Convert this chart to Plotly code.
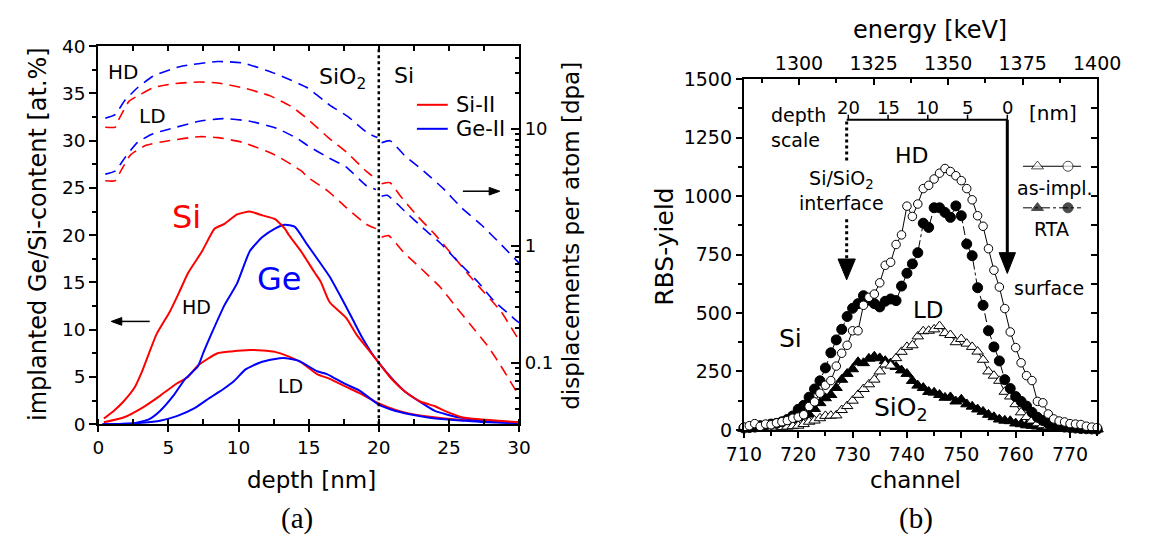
import plotly.graph_objects as go

W, H = 1153, 552
SANS = "DejaVu Sans"
SERIF = "Liberation Serif"
RED, BLUE, BLACK = "#ff0000", "#0000ff", "#000000"

# ================= (a) implanted content [at.%] (left axis) =================
si_hd_depth = [0.4, 1.1, 1.8, 2.6, 3.1, 4.15, 5.1, 5.75, 6.4, 7.4, 8.3, 9.0, 9.9, 10.8, 11.7, 12.6, 13.3, 13.6,
               14.5, 15.4, 15.85, 16.5, 17.7, 18.4, 19.3, 20.0, 20.9, 21.9, 22.95, 24.0, 24.7, 26.0, 27.3, 28.5, 30.0]
si_hd_conc = [0.6, 1.4, 2.4, 3.9, 5.5, 9.5, 11.9, 13.9, 16.0, 18.3, 20.7, 21.2, 22.2, 22.5, 22.1, 21.7, 20.7, 20.0,
              18.2, 16.1, 15.1, 12.9, 11.2, 9.5, 7.8, 6.5, 4.8, 3.4, 2.4, 1.9, 1.4, 0.7, 0.5, 0.37, 0.2]

ge_hd_depth = [0.3, 1.5, 2.6, 3.6, 4.4, 5.4, 6.2, 7.1, 7.5, 8.05, 9.0, 9.9, 10.8, 11.7, 12.6, 13.3, 14.0, 14.9,
               15.85, 16.5, 17.5, 18.1, 18.8, 19.5, 20.1, 20.9, 21.9, 23.0, 24.0, 24.9, 26.0, 27.3, 28.5, 30.0]
ge_hd_conc = [0.0, 0.02, 0.1, 0.5, 1.4, 3.1, 4.8, 6.1, 7.6, 9.5, 12.6, 14.9, 18.3, 19.8, 20.7, 21.1, 20.9, 19.0,
              17.0, 15.6, 12.9, 11.2, 9.2, 7.5, 6.3, 4.9, 3.4, 2.3, 1.4, 1.0, 0.64, 0.37, 0.24, 0.14]

si_ld_depth = [0.4, 1.8, 3.1, 4.4, 5.6, 6.4, 7.1, 8.5, 9.5, 10.8, 11.7, 12.6, 13.5, 14.5, 15.6, 16.5, 17.6, 18.6,
               20.0, 21.2, 22.2, 23.5, 24.7, 26.0, 27.3, 28.5, 30.0]
si_ld_conc = [0.2, 0.7, 1.7, 3.0, 4.3, 5.0, 6.2, 7.5, 7.7, 7.85, 7.8, 7.65, 7.2, 6.5, 5.3, 4.8, 4.0, 3.3,
              2.2, 1.5, 1.1, 0.8, 0.6, 0.45, 0.35, 0.25, 0.15]

ge_ld_depth = [0.3, 2.0, 3.1, 4.4, 5.65, 6.9, 7.9, 8.95, 9.7, 10.5, 11.5, 12.5, 13.2, 14.3, 15.6, 16.3, 17.6, 18.6,
               20.0, 21.2, 22.2, 23.5, 24.7, 26.0, 27.3, 30.0]
ge_ld_conc = [0.0, 0.03, 0.14, 0.37, 0.88, 1.72, 2.74, 3.75, 4.6, 5.8, 6.5, 6.86, 7.0, 6.7, 5.6, 5.3, 4.26, 3.58,
              2.06, 1.39, 1.05, 0.71, 0.51, 0.37, 0.24, 0.1]

# ================= (a) displacements per atom [dpa] (right log axis) =================
dpa_ge_hd_depth = [0.5, 1.2, 1.9, 2.8, 3.9, 5.8, 8.5, 10.3, 12.6, 14.9, 16.5, 17.8, 19.2, 19.9, None,
                   20.2, 20.8, 21.8, 23.2, 24.6, 25.9, 27.3, 28.7, 30.0]
dpa_ge_hd = [12.3, 13.2, 17.5, 22.4, 28.1, 33.9, 37.5, 36.5, 29.7, 22.4, 15.9, 12.7, 9.2, 8.4, None,
             7.6, 7.9, 5.97, 4.34, 3.08, 2.11, 1.51, 1.03, 0.71]

dpa_si_hd_depth = [0.5, 1.2, 1.4, 2.2, 3.0, 3.9, 5.3, 7.2, 8.5, 10.3, 12.2, 13.8, 15.1, 16.4, 17.7, 19.1, 19.8, None,
                   20.2, 20.8, 21.5, 22.7, 24.0, 25.3, 26.4, 27.5, 28.7, 30.0]
dpa_si_hd = [10.3, 10.3, 11.6, 17.2, 19.6, 22.4, 24.2, 25.1, 24.6, 22.4, 19.2, 15.4, 11.6, 8.4, 6.3, 4.34, 3.72, None,
             3.39, 3.46, 2.70, 1.82, 1.25, 0.82, 0.565, 0.40, 0.275, 0.155]

dpa_ge_ld_depth = [0.5, 1.2, 1.9, 2.8, 3.9, 5.1, 7.2, 8.9, 10.8, 12.7, 14.2, 14.9, 16.3, 17.7, 19.1, 19.8, None,
                   20.2, 20.6, 21.8, 23.2, 24.4, 25.7, 27.1, 28.2, 29.6, 30.0]
dpa_ge_ld = [4.09, 4.34, 5.65, 7.64, 9.06, 9.95, 11.6, 12.2, 11.6, 10.1, 8.24, 7.21, 5.75, 4.68, 3.27, 3.03, None,
             2.65, 2.70, 2.0, 1.40, 1.05, 0.72, 0.485, 0.339, 0.241, 0.22]

dpa_si_ld_depth = [0.5, 1.2, 1.6, 2.3, 3.4, 5.1, 7.2, 8.5, 10.3, 12.6, 14.5, 14.9, 16.4, 17.7, 19.1, 19.8, None,
                   20.2, 20.7, 21.8, 23.0, 24.4, 25.5, 26.6, 27.8, 28.7, 30.0]
dpa_si_ld = [3.59, 3.59, 4.34, 5.97, 7.21, 7.93, 8.55, 8.4, 7.64, 5.97, 4.34, 3.87, 2.92, 2.11, 1.53, 1.40, None,
             1.18, 1.22, 0.87, 0.64, 0.44, 0.30, 0.207, 0.137, 0.094, 0.052]

interface_depth = 20

# ================= (b) RBS spectra =================
channel = list(range(710, 776))
hd_as_impl = [12, 18, 27, 15, 25, 22, 30, 35, 40, 50,
              55, 65, 100, 120, 157, 191, 211, 273, 328, 362,
              424, 424, 533, 567, 581, 629, 704, 717, 793, 834,
              957, 913, 966, 1032, 1046, 1073, 1098, 1118, 1105, 1087,
              1066, 1032, 984, 916, 871, 775, 683, 611, 519, 419,
              352, 287, 232, 211, 122, 116, 68, 47, 38, 34,
              27, 25, 23, 16, 12, 10]
hd_rta = [8, 10, 12, 18, 20, 25, 28, 35, 45, 60,
          88, 105, 140, 175, 210, 265, 330, 385, 430, 485,
          520, 540, 574, 555, 540, 526, 550, 560, 553, 615,
          670, 710, 758, 884, 866, 950, 950, 930, 909, 958,
          916, 795, 745, 608, 533, 424, 355, 295, 215, 177,
          143, 122, 102, 75, 54, 40, 27, 20, 15, 12,
          10, 8, 6, 5, 4, 3]
ld_as_impl = [5, 5, 6, 7, 8, 8, 10, 12, 14, 16,
              18, 25, 35, 40, 50, 60, 61, 62, 85, 102,
              125, 150, 175, 195, 215, 250, 280, 275, 307, 334,
              355, 362, 400, 422, 424, 430, 444, 414, 406, 375,
              389, 369, 355, 335, 300, 250, 232, 210, 163, 143,
              110, 75, 55, 40, 28, 20, 15, 12, 10, 8,
              6, 5, 4, 4, 3, 3]
ld_rta = [5, 8, 10, 12, 15, 18, 22, 28, 35, 42,
          50, 58, 66, 90, 115, 136, 150, 180, 215, 240,
          260, 290, 286, 305, 314, 307, 295, 285, 270, 255,
          240, 210, 190, 180, 163, 160, 150, 138, 140, 122,
          130, 110, 100, 88, 78, 65, 55, 45, 40, 38,
          28, 25, 20, 18, 15, 12, 10, 8, 6, 5,
          5, 4, 4, 3, 3, 3]

energy_ticks_kev = [1300, 1325, 1350, 1375, 1400]
depth_scale_nm = [20, 15, 10, 5, 0]

# ----------------------------------------------------------------------------
def px(x):
    return x / W


def py(y):
    return 1 - y / H


# pixel -> data helpers for panel (b) legend glyph placement
def chx(x):
    return 710 + (x - 753.3) / 5.647


def cnt(y):
    return (436.3 - y) / 0.24353


fig = go.Figure()


def curve(x, y, color, dash, ya, width):
    fig.add_trace(go.Scatter(x=x, y=y, mode="lines", xaxis="x", yaxis=ya,
                             line=dict(color=color, width=width, dash=dash, shape="spline", smoothing=0.5),
                             connectgaps=False, showlegend=False, hoverinfo="skip"))


DASH = "11px,7px"
curve(dpa_ge_hd_depth, dpa_ge_hd, BLUE, DASH, "y2", 1.6)
curve(dpa_si_hd_depth, dpa_si_hd, RED, DASH, "y2", 1.6)
curve(dpa_ge_ld_depth, dpa_ge_ld, BLUE, DASH, "y2", 1.6)
curve(dpa_si_ld_depth, dpa_si_ld, RED, DASH, "y2", 1.6)
curve(si_ld_depth, si_ld_conc, RED, "solid", "y", 2)
curve(ge_ld_depth, ge_ld_conc, BLUE, "solid", "y", 2)
curve(ge_hd_depth, ge_hd_conc, BLUE, "solid", "y", 2)
curve(si_hd_depth, si_hd_conc, RED, "solid", "y", 2)


def rbs(y, symbol, fill, dash, size):
    fig.add_trace(go.Scatter(x=channel, y=y, mode="lines+markers", xaxis="x4", yaxis="y3",
                             line=dict(color=BLACK, width=1, dash=dash),
                             marker=dict(symbol=symbol, size=size, color=fill,
                                         line=dict(color=BLACK, width=1)),
                             cliponaxis=False, showlegend=False, hoverinfo="skip"))


rbs(ld_rta, "triangle-up", BLACK, "dashdot", 10.5)
rbs(ld_as_impl, "triangle-up", "white", "solid", 10)
rbs(hd_rta, "circle", BLACK, "dashdot", 10)
rbs(hd_as_impl, "circle", "white", "solid", 8.5)

# legend glyphs in panel (b)
for ly, dash, fill in [(161.7, "solid", "white"), (205.0, "dashdot", BLACK)]:
    fig.add_trace(go.Scatter(x=[chx(1043.3), chx(1103.5)], y=[cnt(ly), cnt(ly)], mode="lines",
                             xaxis="x4", yaxis="y3", line=dict(color=BLACK, width=1, dash=dash),
                             showlegend=False, hoverinfo="skip"))
    fig.add_trace(go.Scatter(x=[chx(1058.3), chx(1090)], y=[cnt(ly), cnt(ly)], mode="markers",
                             xaxis="x4", yaxis="y3",
                             marker=dict(symbol=["triangle-up", "circle"], size=[10.5, 10], color=fill,
                                         line=dict(color=BLACK, width=1)),
                             showlegend=False, hoverinfo="skip"))

# invisible anchor traces so that the helper axes get built with their tick labels
fig.add_trace(go.Scatter(x=energy_ticks_kev, y=[None] * len(energy_ticks_kev), mode="markers",
                         xaxis="x5", yaxis="y3", showlegend=False, hoverinfo="skip",
                         marker=dict(opacity=0)))
fig.add_trace(go.Scatter(x=[0, 30], y=[None, None], mode="markers", xaxis="x3", yaxis="y",
                         showlegend=False, hoverinfo="skip", marker=dict(opacity=0)))
fig.add_trace(go.Scatter(x=[710, 775], y=[None, None], mode="markers", xaxis="x4", yaxis="y4",
                         showlegend=False, hoverinfo="skip", marker=dict(opacity=0)))

# ----------------------------------------------------------------------------
ann = []


def text(t, x, y, size, color=BLACK, family=SANS, xanchor="center", angle=0, align="center"):
    ann.append(dict(text=t, x=px(x), y=py(y), xref="paper", yref="paper", showarrow=False,
                    xanchor=xanchor, yanchor="middle", textangle=angle, align=align,
                    font=dict(family=family, size=size, color=color)))


shapes = []


def seg(x0, y0, x1, y1, width=2, dash="solid", color=BLACK):
    shapes.append(dict(type="line", xref="paper", yref="paper", x0=px(x0), y0=py(y0), x1=px(x1), y1=py(y1),
                       line=dict(color=color, width=width, dash=dash)))


def poly(points):
    path = "M " + " L ".join(f"{px(a)} {py(b)}" for a, b in points) + " Z"
    shapes.append(dict(type="path", xref="paper", yref="paper", path=path,
                       fillcolor=BLACK, line=dict(color=BLACK, width=1)))


def head_down(tipx, tipy, basey, halfw):
    poly([(tipx, tipy), (tipx - halfw, basey), (tipx + halfw, basey)])


def h_arrow(tailx, headx, y, length=11, halfh=4):
    d = 1 if headx > tailx else -1
    seg(tailx, y, headx - d * length * 0.8, y, 1.5)
    poly([(headx, y), (headx - d * length, y - halfh), (headx - d * length, y + halfh)])


# ---- panel (a) texts
text("HD", 108.7, 63.5, 20)
text("LD", 139.3, 109, 20)
text("SiO<sub>2</sub>", 337, 70, 22)
text("Si", 401, 67.5, 22)
text("Si-II", 452.7, 97.5, 21, xanchor="left")
text("Ge-II", 452.7, 122.5, 21, xanchor="left")
seg(414, 97.7, 446, 97.7, 2, color=RED)
seg(414, 122.7, 446, 122.7, 2, color=BLUE)
text("Si", 175, 215, 32, RED)
text("Ge", 271, 279, 32, BLUE)
text("HD", 185.7, 308, 19)
text("LD", 282.6, 391, 19)
h_arrow(136.7, 96.7, 323.3)
h_arrow(461.7, 500, 187.7)
text("depth [nm]", 305, 488, 23)
text("(a)", 290, 529, 29, family=SERIF)
text("implanted Ge/Si-content [at.%]", 21, 232, 24, angle=-90)
text("displacements per atom [dpa]", 574, 234, 23, angle=-90)
shapes.append(dict(type="line", xref="x", yref="y domain", x0=interface_depth, x1=interface_depth,
                   y0=0, y1=1, line=dict(color=BLACK, width=2.5, dash="dot")))

# ---- panel (b) texts
text("energy [keV]", 946, 20, 24)
text("channel", 931, 488, 23)
text("(b)", 932, 529, 29, family=SERIF)
text("RBS-yield", 671, 246, 25, angle=-90)
text("depth<br>scale", 779, 121, 19, xanchor="left", align="left")
for nm in depth_scale_nm:
    xs = 1026.7 - 8.25 * nm
    text(str(nm), xs, 100, 18)
    seg(xs, 113.3, xs, 108, 1.5)
text("[nm]", 1074, 106, 20)
seg(860, 113.3, 1026.7, 113.3, 2)
seg(1026.7, 113.3, 1026.7, 256, 3)
head_down(1026.7, 273.3, 251.7, 8.5)
seg(860, 115, 860, 157, 3, "dot")
seg(860, 217, 860, 260, 3, "dot")
head_down(860, 280, 258.3, 9)
text("Si/SiO<sub>2</sub><br>interface", 855, 187, 19)
text("HD", 927.5, 151, 22)
text("as-impl.", 1076, 184, 19)
text("RTA", 1073, 227, 19)
text("surface", 1069.5, 288, 19)
text("LD", 945, 311, 23)
text("Si", 802, 341, 25)
text("SiO<sub>2</sub>", 916, 415, 25)

# ----------------------------------------------------------------------------
base = dict(showgrid=False, zeroline=False, showline=True, linecolor=BLACK, linewidth=2,
            tickcolor=BLACK, tickwidth=1.5)
fa = dict(family=SANS, size=18.5, color=BLACK)
fb = dict(family=SANS, size=19, color=BLACK)

minor_log = [0.04, 0.05, 0.06, 0.07, 0.08, 0.09, 0.2, 0.3, 0.4, 0.5, 0.6, 0.7, 0.8, 0.9,
             2, 3, 4, 5, 6, 7, 8, 9, 20, 30, 40, 50]

LX = [83.3 / W, 520 / W]
LY = [py(430.3), py(36.7)]
RX = [753.3 / W, 1120 / W]
RY = [py(436.3), py(71)]

fig.update_layout(
    width=W, height=H, margin=dict(l=0, r=0, t=0, b=0),
    paper_bgcolor="white", plot_bgcolor="white", showlegend=False,
    xaxis=dict(base, domain=LX, anchor="y", range=[0, 30], tickmode="linear", tick0=0, dtick=5,
               ticks="outside", ticklen=6, tickfont=fa,
               minor=dict(dtick=2.5, ticks="inside", ticklen=5, tickcolor=BLACK)),
    xaxis3=dict(base, overlaying="x", side="top", anchor="y", range=[0, 30], tickmode="linear",
                tick0=0, dtick=2.5, ticks="inside", ticklen=5, showticklabels=False),
    yaxis=dict(base, domain=LY, anchor="x", range=[0, 40], tickmode="linear", tick0=0, dtick=5,
               ticks="outside", ticklen=7, tickfont=fa,
               minor=dict(dtick=2.5, ticks="outside", ticklen=4, tickcolor=BLACK)),
    yaxis2=dict(base, overlaying="y", side="right", anchor="x", type="log", range=[-1.525, 1.705],
                tickmode="array", tickvals=[0.1, 1, 10], ticktext=["0.1", "1", "10"],
                ticks="inside", ticklen=8, tickfont=dict(family=SANS, size=18, color=BLACK),
                minor=dict(tickmode="array", tickvals=minor_log, ticks="inside", ticklen=4,
                           tickcolor=BLACK)),
    xaxis4=dict(base, domain=RX, anchor="y3", range=[710, 775], tickmode="linear", tick0=710, dtick=10,
                ticks="outside", ticklen=6, tickfont=fb,
                minor=dict(dtick=5, ticks="outside", ticklen=4, tickcolor=BLACK)),
    xaxis5=dict(base, overlaying="x4", side="top", anchor="y3", range=[1281.5, 1400], tickmode="linear",
                tick0=1300, dtick=25, ticks="inside", ticklen=6, tickfont=fb, showticklabels=True,
                minor=dict(dtick=12.5, ticks="inside", ticklen=4, tickcolor=BLACK)),
    yaxis3=dict(base, domain=RY, anchor="x4", range=[0, 1500], tickmode="linear", tick0=0, dtick=250,
                ticks="outside", ticklen=6, tickfont=fb,
                minor=dict(dtick=125, ticks="outside", ticklen=4, tickcolor=BLACK)),
    yaxis4=dict(base, overlaying="y3", side="right", anchor="x4", range=[0, 1500], tickmode="linear",
                tick0=0, dtick=125, ticks="inside", ticklen=6, showticklabels=False),
    annotations=ann,
    shapes=shapes,
)

fig.write_html("out.html")
